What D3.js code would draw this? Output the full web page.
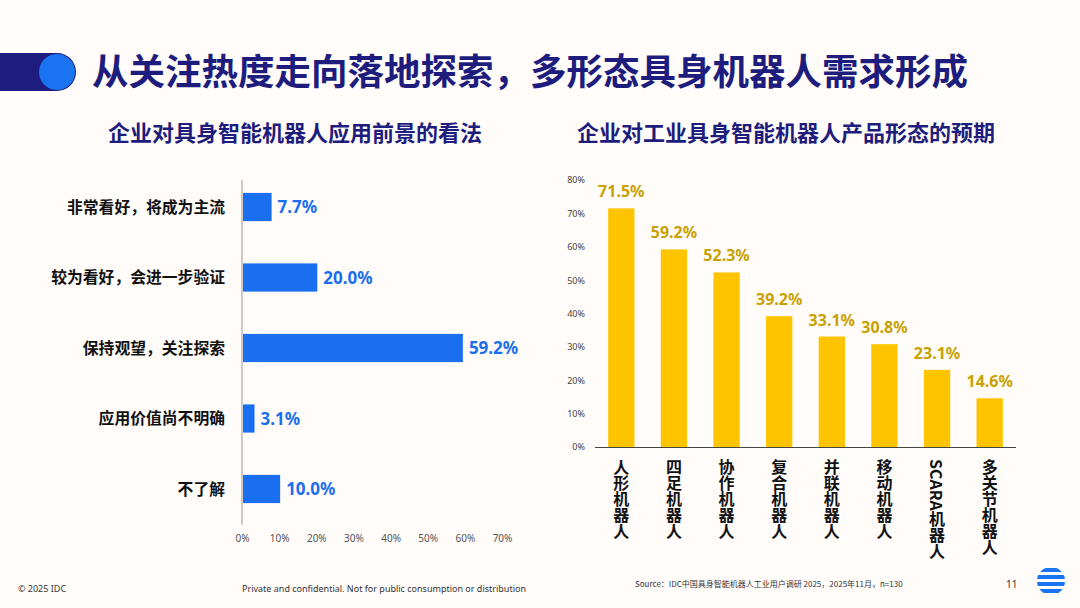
<!DOCTYPE html><html><head><meta charset="utf-8"><script src="https://cdn.jsdelivr.net/npm/d3@7"></script>
<style>body{margin:0;background:#fffcfa}text{font-family:"Noto Sans CJK SC","Noto Sans",sans-serif}</style></head><body>
<svg id="c" width="1080" height="608"></svg>
<script>
const leftCats=["非常看好，将成为主流","较为看好，会进一步验证","保持观望，关注探索","应用价值尚不明确","不了解"];
const leftVals=[7.7,20.0,59.2,3.1,10.0];
const leftTicks=[0,10,20,30,40,50,60,70];
const rightCats=["人形机器人","四足机器人","协作机器人","复合机器人","并联机器人","移动机器人","SCARA机器人","多关节机器人"];
const rightVals=[71.5,59.2,52.3,39.2,33.1,30.8,23.1,14.6];
const rightTicks=[0,10,20,30,40,50,60,70,80];
const svg=d3.select("#c");
svg.append("rect").attr("width",1080).attr("height",608).attr("fill","#fffcfa");
svg.append("rect").attr("x",-20).attr("y",53).attr("width",96).attr("height",38).attr("rx",19).attr("fill","#1e1c7c");
svg.append("circle").attr("cx",57).attr("cy",72).attr("r",18).attr("fill","#1a73f0");
svg.append("text").attr("x",92).attr("y",85).attr("font-size",36.5).attr("font-weight",700).attr("fill","#1e1c7c").text("从关注热度走向落地探索，多形态具身机器人需求形成");
svg.append("text").attr("x",295).attr("y",141).attr("text-anchor","middle").attr("font-size",22).attr("font-weight",700).attr("fill","#1e1c7c").text("企业对具身智能机器人应用前景的看法");
svg.append("text").attr("x",786).attr("y",141).attr("text-anchor","middle").attr("font-size",22).attr("font-weight",700).attr("fill","#1e1c7c").text("企业对工业具身智能机器人产品形态的预期");

// left chart
const lx=d3.scaleLinear().domain([0,70]).range([242,502]);
const ly=d3.scaleBand().domain(leftCats).range([171.75,524.25]).paddingInner(0.6).paddingOuter(0.3);
const gl=svg.append("g");
gl.append("g").attr("transform","translate(0,525)")
 .call(d3.axisBottom(lx).tickValues(leftTicks).tickFormat(d=>d+"%").tickSize(0).tickPadding(10))
 .call(g=>g.select(".domain").remove())
 .call(g=>g.selectAll("text").attr("font-size",10).attr("fill","#555").style("font-family","Noto Sans"));
gl.append("line").attr("x1",242).attr("x2",242).attr("y1",180).attr("y2",525).attr("stroke","#999");
gl.selectAll(".b").data(leftVals).join("rect").attr("x",lx(0)+1).attr("y",(d,i)=>ly(leftCats[i]))
 .attr("width",d=>lx(d)-lx(0)).attr("height",ly.bandwidth()).attr("fill","#1a6ff0");
gl.selectAll(".v").data(leftVals).join("text").attr("x",d=>lx(d)+7).attr("y",(d,i)=>ly(leftCats[i])+ly.bandwidth()/2+6)
 .attr("font-size",17).attr("font-weight",700).attr("fill","#1a6ff0").style("font-family","Noto Sans").text(d=>d.toFixed(1)+"%");
gl.selectAll(".c").data(leftCats).join("text").attr("x",225).attr("y",d=>ly(d)+ly.bandwidth()/2+5.5)
 .attr("text-anchor","end").attr("font-size",15.8).attr("font-weight",700).attr("fill","#111").text(d=>d);

// right chart
const ry=d3.scaleLinear().domain([0,80]).range([447,180]);
const rx=d3.scaleBand().domain(rightCats).range([595,1016]).paddingInner(0.5).paddingOuter(0.25);
const gr=svg.append("g");
gr.append("g").attr("transform","translate(595,0)")
 .call(d3.axisLeft(ry).tickValues(rightTicks).tickFormat(d=>d+"%").tickSize(0).tickPadding(10))
 .call(g=>g.select(".domain").remove())
 .call(g=>g.selectAll("text").attr("font-size",9).attr("fill","#444").style("font-family","Noto Sans"));
gr.selectAll(".b").data(rightVals).join("rect").attr("x",(d,i)=>rx(rightCats[i])).attr("y",d=>ry(d))
 .attr("width",rx.bandwidth()).attr("height",d=>ry(0)-ry(d)).attr("fill","#ffc400");
gr.append("line").attr("x1",595).attr("x2",1016).attr("y1",447.5).attr("y2",447.5).attr("stroke","#444").attr("stroke-width",1.2);
gr.selectAll(".v").data(rightVals).join("text").attr("x",(d,i)=>rx(rightCats[i])+rx.bandwidth()/2).attr("y",d=>ry(d)-11)
 .attr("text-anchor","middle").attr("font-size",16).attr("font-weight",700).attr("fill","#c9a100").style("font-family","Noto Sans").text(d=>d.toFixed(1)+"%");
gr.selectAll(".c").data(rightCats).join("text").attr("x",(d)=>rx(d)+rx.bandwidth()/2).attr("y",459)
 .attr("writing-mode","vertical-rl").style("writing-mode","vertical-rl").attr("font-size",16).attr("font-weight",700).attr("fill","#111").text(d=>d);

// footer
svg.append("text").attr("x",18).attr("y",592).attr("font-size",9).attr("fill","#333").style("font-family","Noto Sans").text("© 2025 IDC");
svg.append("text").attr("x",242).attr("y",592).attr("font-size",9).attr("fill","#333").style("font-family","Noto Sans").text("Private and confidential. Not for public consumption or distribution");
svg.append("text").attr("x",635).attr("y",587).attr("font-size",8).attr("fill","#333").text("Source：IDC中国具身智能机器人工业用户调研 2025，2025年11月，n=130");
svg.append("text").attr("x",1006).attr("y",588).attr("font-size",10).attr("fill","#333").style("font-family","Noto Sans").text("11");
const lg=svg.append("g");
lg.append("clipPath").attr("id","cl").append("circle").attr("cx",1051).attr("cy",581).attr("r",14);
[570,577,584,591].forEach((y,i)=>lg.append("rect").attr("clip-path","url(#cl)").attr("x",1030).attr("y",y-2).attr("width",42).attr("height",4).attr("fill","#1a73f0"));
</script></body></html>
